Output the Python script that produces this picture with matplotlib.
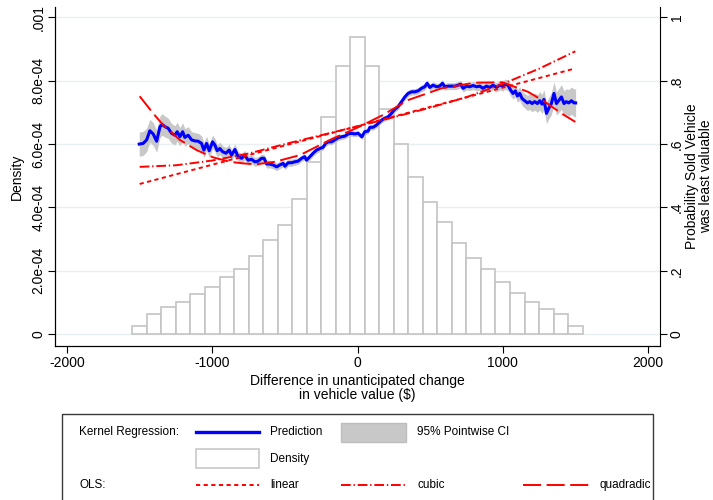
import numpy as np
import matplotlib
matplotlib.use('Agg')
import matplotlib.pyplot as plt
from matplotlib.patches import Rectangle

plt.rcParams['font.family'] = ['Liberation Sans Narrow', 'Liberation Sans', 'DejaVu Sans']
plt.rcParams['lines.scale_dashes'] = False

# histogram of the difference (bins of width 100)
bin_centers = np.arange(-1500, 1501, 100)
density = np.array([0.26, 0.64, 0.84, 1.00, 1.26, 1.48, 1.79, 2.04, 2.46, 2.97,
                    3.45, 4.27, 5.42, 6.86, 8.46, 9.38, 8.47, 7.11, 5.99, 4.95,
                    4.16, 3.54, 2.88, 2.39, 2.04, 1.65, 1.28, 1.00, 0.79, 0.64,
                    0.26]) * 1e-4

# kernel regression prediction and 95% CI half width
pred_x = [-1503, -1476, -1452, -1430, -1407, -1383, -1360, -1345, -1326, -1304,
          -1280, -1257, -1242, -1223, -1204, -1189, -1166, -1142, -1120, -1097,
          -1074, -1058, -1039, -1021, -998, -982, -966, -948, -929, -906,
          -884, -867, -844, -822, -798, -776, -753, -730, -707, -684,
          -661, -643, -626, -604, -581, -557, -535, -512, -500, -478,
          -454, -432, -409, -385, -363, -351, -328, -306, -282, -259,
          -237, -220, -202, -179, -156, -134, -110, -87, -65, -41,
          -19, 4, 30, 50, 73, 85, 107, 131, 153, 176,
          211, 234, 257, 279, 303, 326, 348, 372, 394, 417,
          440, 463, 479, 498, 520, 544, 566, 585, 601, 624,
          647, 670, 692, 711, 727, 750, 773, 796, 819, 842,
          864, 888, 911, 933, 957, 979, 1002, 1014, 1036, 1055,
          1071, 1087, 1101, 1117, 1133, 1151, 1170, 1186, 1202, 1220,
          1239, 1255, 1270, 1284, 1301, 1317, 1335, 1353, 1370, 1385,
          1404, 1422, 1438, 1454, 1473, 1491, 1502]
pred_y = [.600, .602, .613, .642, .632, .609, .655, .662, .655, .650,
          .634, .628, .639, .623, .639, .621, .628, .613, .610, .609,
          .602, .581, .602, .579, .607, .597, .579, .586, .576, .571,
          .581, .565, .583, .560, .555, .565, .549, .552, .544, .546,
          .555, .555, .537, .537, .534, .528, .534, .539, .530, .541,
          .541, .544, .546, .555, .560, .549, .560, .571, .581, .586,
          .590, .602, .607, .607, .613, .620, .623, .625, .632, .634,
          .632, .634, .623, .639, .641, .653, .653, .660, .670, .679,
          .686, .697, .710, .718, .734, .749, .760, .765, .765, .768,
          .776, .781, .792, .779, .786, .781, .783, .792, .781, .783,
          .783, .783, .786, .789, .776, .783, .781, .785, .781, .783,
          .776, .783, .779, .786, .779, .786, .783, .789, .786, .770,
          .760, .768, .752, .760, .744, .737, .730, .734, .728, .734,
          .728, .737, .726, .741, .697, .713, .728, .760, .728, .737,
          .749, .728, .734, .730, .737, .730, .730]
pred_ci = [.038, .038, .037, .036, .036, .035, .034, .034, .033, .032,
           .031, .030, .030, .029, .028, .028, .027, .026, .026, .025,
           .024, .024, .023, .022, .022, .021, .020, .020, .019, .018,
           .018, .017, .017, .016, .016, .015, .015, .014, .014, .014,
           .013, .013, .013, .012, .012, .012, .012, .011, .011, .011,
           .011, .011, .010, .010, .010, .010, .010, .010, .010, .010,
           .009, .009, .009, .009, .009, .009, .009, .009, .009, .009,
           .009, .009, .009, .009, .009, .009, .009, .009, .009, .009,
           .009, .009, .009, .010, .010, .010, .010, .010, .010, .010,
           .011, .011, .011, .011, .011, .011, .011, .011, .011, .011,
           .011, .011, .012, .012, .012, .012, .012, .013, .013, .013,
           .013, .014, .014, .014, .015, .015, .016, .016, .017, .018,
           .018, .019, .020, .021, .022, .023, .024, .025, .026, .027,
           .028, .029, .030, .031, .033, .034, .035, .036, .037, .038,
           .039, .040, .041, .042, .043, .044, .044]

# OLS fits
lin_x = [-1500, 1500]
lin_y = [0.474, 0.839]
cub_x = [-1500, -1250, -1000, -750, -500, -250, 0, 250, 500, 750, 1000, 1250, 1500]
cub_y = [0.528, 0.533, 0.548, 0.570, 0.600, 0.628, 0.656, 0.685, 0.715, 0.748, 0.790, 0.838, 0.893]
quad_x = [-1500, -1407, -1338, -1223, -1108, -994, -879, -787, -700, -569, -397,
          -168, 0, 176, 348, 578, 807, 1000, 1174, 1289, 1404, 1500]
quad_y = [0.751, 0.697, 0.660, 0.613, 0.581, 0.558, 0.544, 0.539, 0.536, 0.544, 0.565,
          0.618, 0.652, 0.692, 0.739, 0.776, 0.794, 0.795, 0.765, 0.734, 0.697, 0.670]

x_ticks = [-2000, -1000, 0, 1000, 2000]
x_labels = ['-2000', '-1000', '0', '1000', '2000']
dens_ticks = [0, 2e-4, 4e-4, 6e-4, 8e-4, 1e-3]
dens_labels = ['0', '2.0e-04', '4.0e-04', '6.0e-04', '8.0e-04', '.001']
prob_ticks = [0, .2, .4, .6, .8, 1]
prob_labels = ['0', '.2', '.4', '.6', '.8', '1']

LIN = (0, (3, 2.5))
CUB = (0, (7, 2, 1, 2))
QUAD = (0, (13, 4))
RED = '#ff0000'

fig = plt.figure(figsize=(7.13, 5.0), dpi=100)
ax = fig.add_axes([55 / 713, 154 / 500, 605 / 713, 339 / 500])
ax2 = ax.twinx()

for y in dens_ticks:
    ax.axhline(y, color='#e8f0f2', lw=1.0, zorder=0)
ax.bar(bin_centers, density, width=100, color='white', edgecolor='#c4c4c4', lw=1.2, zorder=2)
ax.set_xlim(-2083, 2083)
ax.set_ylim(-0.0000379, 0.001033)
ax.set_xticks(x_ticks)
ax.set_xticklabels(x_labels, fontsize=10)
ax.set_yticks(dens_ticks)
ax.set_yticklabels(dens_labels, fontsize=10, rotation=90, va='center')
ax.set_ylabel('Density', fontsize=10, labelpad=5)
ax.set_xlabel('Difference in unanticipated change\nin vehicle value ($)', fontsize=10,
              labelpad=3, linespacing=1.0)

lo = np.array(pred_y) - np.array(pred_ci)
hi = np.array(pred_y) + np.array(pred_ci)
ax2.fill_between(pred_x, lo, hi, color='#c8c8c8', lw=0)
ax2.plot(pred_x, pred_y, color='#0000ff', lw=2.2)
ax2.plot(lin_x, lin_y, color=RED, lw=1.4, linestyle=LIN)
ax2.plot(cub_x, cub_y, color=RED, lw=1.4, linestyle=CUB)
ax2.plot(quad_x, quad_y, color=RED, lw=1.4, linestyle=QUAD)
ax2.set_ylim(-0.0379, 1.033)
ax2.set_yticks(prob_ticks)
ax2.set_yticklabels(prob_labels, fontsize=10, rotation=90, va='center')
ax2.set_ylabel('Probability Sold Vehicle\nwas least valuable', fontsize=10,
               labelpad=1, linespacing=0.95)

for a in (ax, ax2):
    a.spines['top'].set_visible(False)
    a.tick_params(length=5, width=0.8, pad=2)
ax.spines['right'].set_visible(False)

# legend drawn in pixel space
lax = fig.add_axes([0, 0, 1, 1])
lax.set_xlim(0, 713)
lax.set_ylim(500, 0)
lax.axis('off')
lax.add_patch(Rectangle((62, 414), 591, 100, fill=False, ec='#3a3a3a', lw=1.0))
fs = 8.5
lax.text(79, 432, 'Kernel Regression:', va='center', fontsize=fs)
lax.plot([196, 259], [432, 432], color='#0000ff', lw=2.4)
lax.text(270, 432, 'Prediction', va='center', fontsize=fs)
lax.add_patch(Rectangle((341, 423), 65, 19, fc='#c8c8c8', ec='#bdbdbd', lw=1.0))
lax.text(417, 432, '95% Pointwise CI', va='center', fontsize=fs)
lax.add_patch(Rectangle((196, 449), 63, 19, fc='white', ec='#c8c8c8', lw=1.2))
lax.text(270, 459, 'Density', va='center', fontsize=fs)
lax.text(79, 485, 'OLS:', va='center', fontsize=fs)
lax.plot([196, 259], [485, 485], color=RED, lw=1.4, linestyle=LIN)
lax.text(270, 485, 'linear', va='center', fontsize=fs)
lax.plot([341, 406], [485, 485], color=RED, lw=1.4, linestyle=CUB)
lax.text(417, 485, 'cubic', va='center', fontsize=fs)
lax.plot([523, 589], [485, 485], color=RED, lw=1.4, linestyle=QUAD)
lax.text(599, 485, 'quadradic', va='center', fontsize=fs)

fig.savefig('out.png', dpi=100)
